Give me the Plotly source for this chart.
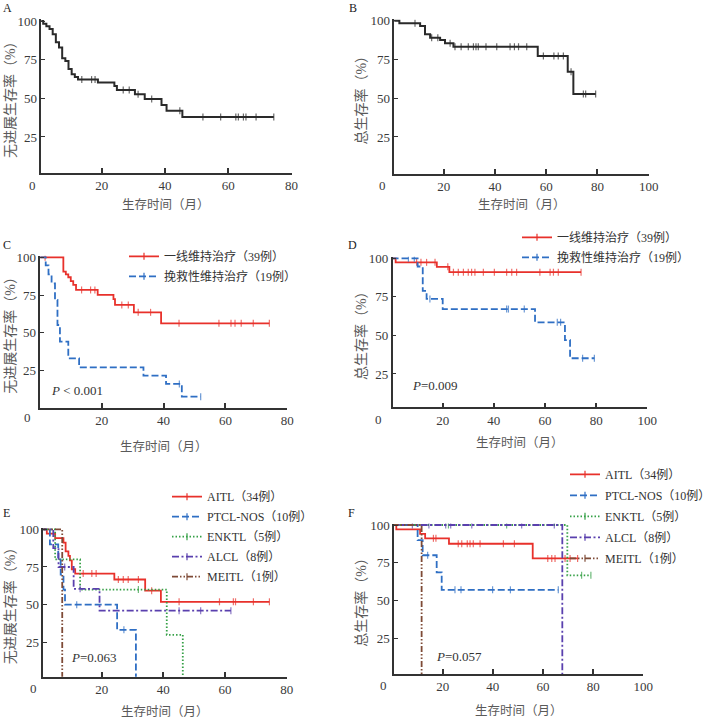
import plotly.graph_objects as go

W, H = 713, 719
FONT = "Liberation Serif, Times New Roman, Noto Sans CJK SC, serif"

# ---------------- data ----------------
ticks_80 = [20, 40, 60, 80]
ticks_100 = [20, 40, 60, 80, 100]
pct_ticks = [25, 50, 75, 100]

# A: PFS all patients
A_t = [0, 1.5, 2.5, 3.5, 4.5, 5.5, 6.5, 7.5, 8.5, 9.5, 10.5, 11.5, 12.5, 18.8, 24.0, 24.8, 30.5, 33.6, 38.9, 40.5, 45.5]
A_s = [100, 98.3, 96.6, 94.8, 91.4, 86.2, 82.8, 75.9, 74.1, 69.0, 65.5, 63.8, 62.1, 60.3, 58.0, 55.4, 52.6, 49.6, 45.7, 42.0, 37.9]
A_c = [13.7, 16.8, 17.9, 26.8, 28.7, 31.5, 35.8, 44.7, 52.0, 57.6, 62.4, 63.2, 64.8, 65.6, 68.8, 74.4]

# B: OS all patients
B_t = [0, 2.7, 10.8, 12.7, 14.7, 18.6, 20.5, 23.8, 56.7, 68.4, 70.6]
B_s = [100, 98.3, 96.6, 91.2, 89.0, 87.5, 85.4, 83.2, 77.2, 67.1, 52.7]
B_c = [8.8, 15.3, 17.7, 22.5, 24.4, 26.8, 29.6, 31.6, 32.6, 33.5, 36.5, 40.7, 45.9, 47.6, 49.2,
       52.4, 58.9, 63.0, 64.7, 66.7, 69.7, 74.5, 75.4, 79.3]

# C: PFS by maintenance setting
C1_t = [0, 7.6, 8.4, 9.2, 10.0, 10.8, 11.7, 18.7, 23.8, 24.3, 30.4, 39.2]
C1_s = [100, 90.5, 88.7, 86.8, 84.3, 81.7, 78.4, 75.1, 72.4, 68.5, 63.6, 56.3]
C1_c = [1.7, 13.5, 16.4, 17.8, 26.5, 28.6, 31.8, 35.8, 45.0, 57.9, 61.8, 63.1, 65.1, 69.0, 74.2]
C2_t = [0, 1.9, 2.8, 3.8, 4.9, 5.7, 6.5, 9.2, 12.7, 33.5, 40.8, 45.9]
C2_s = [100, 94.7, 88.7, 82.8, 71.8, 55.2, 44.2, 33.2, 27.2, 21.7, 16.2, 7.8]
C2_c = [45.1, 52.0]

# D: OS by maintenance setting
D1_t = [0, 1.6, 17.7, 22.6]
D1_s = [100, 97.4, 94.5, 91.0]
D1_c = [9.8, 11.5, 13.7, 17.0, 22.0, 24.2, 26.1, 28.1, 30.0, 31.3, 32.6, 35.9, 40.2, 45.0, 47.0,
        48.9, 58.0, 62.0, 63.3, 65.2, 74.1]
D2_t = [0, 10.2, 12.2, 13.7, 20.0, 56.1, 67.8, 69.8]
D2_s = [100, 94.7, 78.9, 73.7, 67.1, 58.5, 47.0, 35.2]
D2_c = [6.6, 8.9, 15.0, 45.0, 45.7, 51.9, 64.8, 66.1, 74.7, 79.3]

# E: PFS by subtype
E1_t = [0, 2.2, 4.9, 7.6, 8.3, 9.2, 9.7, 10.3, 11.4, 24.1, 34.1, 39.2]
E1_s = [100, 97.1, 94.1, 91.2, 85.3, 82.4, 79.4, 73.5, 70.6, 66.7, 59.3, 51.9]
E1_c = [14.0, 16.8, 18.2, 25.4, 27.0, 28.6, 31.9, 36.2, 45.1, 58.2, 62.7, 63.4, 69.2, 74.4]
E2_t = [0, 3.2, 5.9, 6.7, 7.6, 8.1, 25.0, 31.1]
E2_s = [100, 90, 80, 70, 60, 50, 33.3, 0]
E2_c = [11.9, 27.2]
E3_t = [0, 4.9, 13.0, 41.1, 46.3]
E3_s = [100, 80, 60, 30, 0]
E3_c = [31.9]
E4_t = [0, 4.3, 6.0, 10.9, 19.3]
E4_s = [100, 87.5, 75, 60.5, 46]
E4_c = [8.0, 13.0, 45.1, 52.1, 61.9]
E5_t = [0, 7.2]
E5_s = [100, 0]
E5_c = []

# F: OS by subtype
F1_t = [0, 1.5, 11.0, 13.0, 22.5, 55.9]
F1_s = [100, 97.1, 94.1, 91.2, 87.6, 77.9]
F1_c = [16.3, 17.3, 26.2, 27.6, 29.8, 30.9, 32.2, 34.9, 44.2, 48.6, 61.9, 63.5, 64.8, 68.8, 70.8, 73.8]
F2_t = [0, 10.0, 12.0, 17.6, 19.6]
F2_s = [100, 90, 80, 68.6, 57.1]
F2_c = [14.0, 24.9, 27.3, 39.9, 47.0, 66.1]
F3_t = [0, 69.7]
F3_s = [100, 66.7]
F3_c = [22.3, 45.5, 75.4, 79.1]
F4_t = [0, 67.7]
F4_s = [100, 0]
F4_c = [7.9, 14.5, 21.2, 23.2, 31.6, 51.5, 64.5]
F5_t = [0, 11.6]
F5_s = [100, 0]
F5_c = []

maint_names = ["一线维持治疗（39例）", "挽救性维持治疗（19例）"]
sub_names = ["AITL（34例）", "PTCL-NOS（10例）", "ENKTL（5例）", "ALCL（8例）", "MEITL（1例）"]
pfs_title = "无进展生存率（%）"
os_title = "总生存率（%）"
time_title = "生存时间（月）"
p_texts = {"C": "<i>P</i> < 0.001", "D": "<i>P</i>=0.009", "E": "<i>P</i>=0.063", "F": "<i>P</i>=0.057"}

# ---------------- styles ----------------
BLACK = "#2a2a2a"
RED = "#e8312b"
BLUE = "#2f6fc4"
GREEN = "#35a046"
PURPLE = "#5a40ae"
BROWN = "#7e4a36"
styles_maint = [dict(color=RED, dash="solid"), dict(color=BLUE, dash="7px,3px")]
styles_sub = [dict(color=RED, dash="solid"), dict(color=BLUE, dash="7px,3px"),
              dict(color=GREEN, dash="1.5px,2px"), dict(color=PURPLE, dash="7px,2.5px,2px,2.5px"),
              dict(color=BROWN, dash="6px,2px,1.5px,2px,1.5px,2px")]
MS = 5

# panel geometry (pixels): left, right, top(=101%), bottom, x range start, y range start
panels = {
    "A": dict(ax="", left=41.3, right=291.5, top=19.45, bottom=172.7, x0=0.9, x1=80, y0=1.9, xt=ticks_80),
    "B": dict(ax="2", left=394.3, right=648.7, top=19.15, bottom=174.0, x0=0.72, x1=100, y0=1.1, xt=ticks_100),
    "C": dict(ax="3", left=40.3, right=287.3, top=255.8, bottom=407.7, x0=0.15, x1=80, y0=0.5, xt=ticks_80),
    "D": dict(ax="4", left=392.7, right=647.3, top=256.8, bottom=407.3, x0=0.45, x1=100, y0=3.4, xt=ticks_100),
    "E": dict(ax="5", left=43.3, right=286.7, top=527.8, bottom=676.7, x0=1.06, x1=80, y0=2.2, xt=ticks_80),
    "F": dict(ax="6", left=394.0, right=643.3, top=523.5, bottom=674.0, x0=0.58, x1=100, y0=1.4, xt=ticks_100),
}


def km_points(t, s, cens):
    xs = sorted(set(t) | set(cens))
    ys, sizes = [], []
    for x in xs:
        k = max(i for i, ti in enumerate(t) if ti <= x)
        ys.append(s[k])
        sizes.append(MS if x in cens else 0)
    return xs, ys, sizes


fig = go.Figure()


def add_curve(panel, t, s, c, color, dash, width=1.8, name=None, legend=None):
    ax = panels[panel]["ax"]
    xs, ys, sz = km_points(t, s, c)
    fig.add_trace(go.Scatter(
        x=xs, y=ys, mode="lines+markers", line=dict(color=color, width=width, dash=dash, shape="hv"),
        marker=dict(symbol="line-ns", size=sz, color=color, line=dict(color=color, width=1.2)),
        xaxis="x" + ax, yaxis="y" + ax, showlegend=False, hoverinfo="skip"))
    if name is not None:
        fig.add_trace(go.Scatter(
            x=[None], y=[None], mode="lines+markers", name=name, legend=legend,
            legendgroup=panel + name,
            line=dict(color=color, width=width, dash=dash),
            marker=dict(symbol="line-ns", size=5, color=color, line=dict(color=color, width=1.2)),
            xaxis="x" + ax, yaxis="y" + ax, showlegend=True))


add_curve("A", A_t, A_s, A_c, BLACK, "solid", width=2)
add_curve("B", B_t, B_s, B_c, BLACK, "solid", width=2)
for (t, s, c), st, nm in zip([(C1_t, C1_s, C1_c), (C2_t, C2_s, C2_c)], styles_maint, maint_names):
    add_curve("C", t, s, c, st["color"], st["dash"], name=nm, legend="legend")
for (t, s, c), st, nm in zip([(D1_t, D1_s, D1_c), (D2_t, D2_s, D2_c)], styles_maint, maint_names):
    add_curve("D", t, s, c, st["color"], st["dash"], name=nm, legend="legend2")
for (t, s, c), st, nm in zip([(E1_t, E1_s, E1_c), (E2_t, E2_s, E2_c), (E3_t, E3_s, E3_c),
                              (E4_t, E4_s, E4_c), (E5_t, E5_s, E5_c)], styles_sub, sub_names):
    add_curve("E", t, s, c, st["color"], st["dash"], name=nm, legend="legend3")
for (t, s, c), st, nm in zip([(F1_t, F1_s, F1_c), (F2_t, F2_s, F2_c), (F3_t, F3_s, F3_c),
                              (F4_t, F4_s, F4_c), (F5_t, F5_s, F5_c)], styles_sub, sub_names):
    add_curve("F", t, s, c, st["color"], st["dash"], name=nm, legend="legend4")

layout = dict(width=W, height=H, margin=dict(l=0, r=0, t=0, b=0, autoexpand=False), paper_bgcolor="white",
              plot_bgcolor="white", font=dict(family=FONT, size=12, color="#333"))

AXCOL = "#333333"
annotations = []


def ann(text, px, py, size=12, color="#333", xa="center", ya="middle", angle=0):
    return dict(text=text, x=px / W, y=1 - py / H, xref="paper", yref="paper", showarrow=False,
                font=dict(family=FONT, size=size, color=color), xanchor=xa, yanchor=ya, textangle=angle)


for key, p in panels.items():
    ax = p["ax"]
    xkey = "xaxis" + ax
    ykey = "yaxis" + ax
    layout[xkey] = dict(domain=[p["left"] / W, p["right"] / W], anchor="y" + ax, range=[p["x0"], p["x1"]],
                        tickvals=p["xt"], ticks="inside", ticklen=5, tickwidth=1.5, tickcolor=AXCOL,
                        showline=True, linecolor=AXCOL, linewidth=1.5, showgrid=False, zeroline=False,
                        tickfont=dict(family=FONT, size=13, color="#3a3a3a"), fixedrange=True)
    layout[ykey] = dict(domain=[1 - p["bottom"] / H, 1 - p["top"] / H], anchor="x" + ax, range=[p["y0"], 101],
                        tickvals=pct_ticks, ticks="inside", ticklen=4, tickwidth=1.2, tickcolor=AXCOL,
                        showline=True, linecolor=AXCOL, linewidth=1.5, showgrid=False, zeroline=False,
                        tickfont=dict(family=FONT, size=13, color="#3a3a3a"), fixedrange=True)

# tick "0" at origin, axis titles, panel letters
zero_pos = {"A": (32.3, 185), "B": (383, 185), "C": (27.3, 417.7), "D": (379, 419), "E": (33.3, 688.3), "F": (383.3, 685)}
xt_pos = {"A": 205, "B": 205, "C": 446.7, "D": 443.3, "E": 711.7, "F": 710.7}
yt_x = {"A": 10, "B": 361, "C": 10, "D": 361, "E": 10, "F": 361}
letter_pos = {"A": (7, 8), "B": (353, 8), "C": (7, 245), "D": (352, 245), "E": (6, 513), "F": (351, 513)}
p_pos = {"C": (49, 390.7), "D": (410, 385.7), "E": (69, 657.7), "F": (434, 656.7)}

for key, p in panels.items():
    zx, zy = zero_pos[key]
    annotations.append(ann("0", zx, zy, size=13, color="#3a3a3a"))
    annotations.append(ann(time_title, (p["left"] + p["right"]) / 2, xt_pos[key], size=12.5, color="#5a5a5a"))
    ytitle = pfs_title if key in "ACE" else os_title
    annotations.append(ann(ytitle, yt_x[key], (p["top"] + p["bottom"]) / 2, size=14, color="#5a5a5a", angle=-90))
    lx, ly = letter_pos[key]
    annotations.append(ann(key, lx, ly, size=12, color="#222"))
    if key in p_pos:
        px_, py_ = p_pos[key]
        annotations.append(ann(p_texts[key], px_, py_, size=13, color="#333", xa="left"))

layout["annotations"] = annotations


def leg(text_left_px, first_center_py, gap=0, size=12):
    return dict(x=(text_left_px - 42) / W, y=1 - (first_center_py - 15.5) / H, xanchor="left", yanchor="top",
                bgcolor="rgba(0,0,0,0)", borderwidth=0, itemwidth=30, tracegroupgap=gap,
                traceorder="grouped", font=dict(family=FONT, size=size, color="#333"))


layout["legend"] = leg(166, 257.3, 1)
layout["legend2"] = leg(559, 238.3, 1)
layout["legend3"] = leg(209, 497.7, 1)
layout["legend4"] = leg(607, 475.3, 2)

fig.update_layout(**layout)
fig.write_html("out.html")
